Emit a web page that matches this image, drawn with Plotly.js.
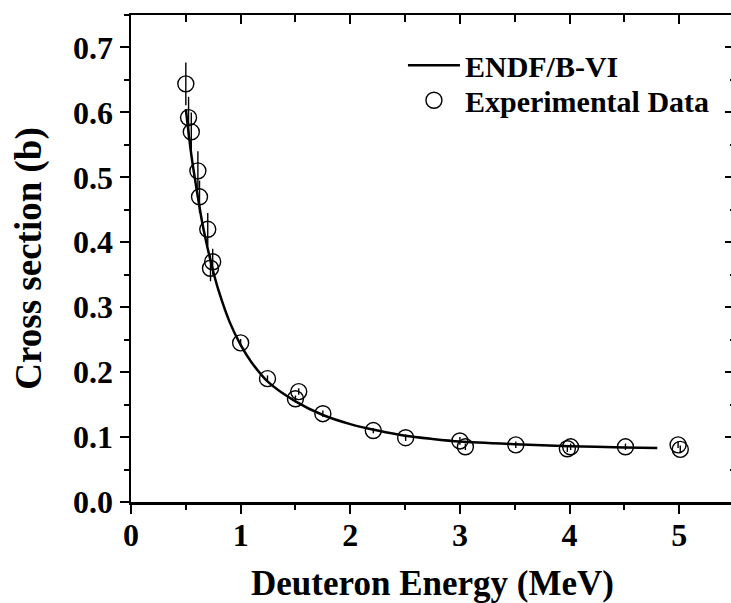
<!DOCTYPE html>
<html>
<head>
<meta charset="utf-8">
<script src="https://cdn.plot.ly/plotly-3.0.1.min.js"></script>
<style>
html,body{margin:0;padding:0;overflow:hidden;background:#fff;width:731px;height:603px;}
#chart{width:736px;height:603px;}
</style>
</head>
<body>
<div id="chart"></div>
<script>
// ENDF/B-VI evaluated curve
const endfEnergy = [0.5, 0.55, 0.6, 0.65, 0.7, 0.75, 0.8, 0.9, 1.0, 1.1, 1.25, 1.5, 1.75, 2.0, 2.25, 2.5, 2.75, 3.0, 3.5, 4.0, 4.5, 4.8];
const endfSigma  = [0.605, 0.535, 0.48, 0.43, 0.39, 0.355, 0.325, 0.277, 0.242, 0.215, 0.185, 0.155, 0.134, 0.12, 0.11, 0.102, 0.097, 0.093, 0.089, 0.086, 0.084, 0.083];

// Experimental data
const expEnergy = [0.5, 0.525, 0.55, 0.61, 0.625, 0.70, 0.725, 0.745, 1.0, 1.245, 1.50, 1.53, 1.75, 2.21, 2.505, 3.0, 3.05, 3.51, 3.98, 4.01, 4.51, 4.99, 5.01];
const expSigma  = [0.644, 0.592, 0.57, 0.51, 0.47, 0.42, 0.36, 0.37, 0.245, 0.19, 0.159, 0.17, 0.136, 0.11, 0.099, 0.094, 0.085, 0.088, 0.082, 0.085, 0.085, 0.088, 0.081];
const expError  = [0.033, 0.032, 0.03, 0.03, 0.025, 0.025, 0.02, 0.02, 0.006, 0.005, 0.005, 0.005, 0.005, 0.004, 0.005, 0.006, 0.005, 0.005, 0.005, 0.005, 0.005, 0.005, 0.006];

const xTickVals = [0, 1, 2, 3, 4, 5];
const yTickVals = [0.0, 0.1, 0.2, 0.3, 0.4, 0.5, 0.6, 0.7];

const FONT = 'Liberation Serif, Times New Roman, serif';

const traces = [
  {
    x: endfEnergy, y: endfSigma, mode: 'lines', name: 'ENDF/B-VI',
    line: {color: '#000', width: 2.5, shape: 'spline', smoothing: 0.8},
    xaxis: 'x', yaxis: 'y', legend: 'legend'
  },
  {
    x: expEnergy, y: expSigma, mode: 'markers', name: 'Experimental Data',
    marker: {symbol: 'circle-open', size: 16, color: '#000', line: {width: 1.4, color: '#000'}},
    error_y: {type: 'data', array: expError, visible: true, color: '#000', thickness: 1.4, width: 0},
    xaxis: 'x', yaxis: 'y', legend: 'legend2'
  }
];

const commonAxis = {
  showgrid: false, zeroline: false, showline: true,
  linecolor: '#000', linewidth: 2.5, tickcolor: '#000', tickwidth: 2
};

const legendFont = {family: FONT, size: 30, color: '#000', weight: 700};

const layout = {
  width: 736, height: 603,
  margin: {l: 131, r: 2, t: 15, b: 101},
  paper_bgcolor: '#fff', plot_bgcolor: '#fff',
  font: {family: FONT, color: '#000', size: 30, weight: 700},
  showlegend: true,
  legend: {
    x: 0.451, y: 0.897, xanchor: 'left', yanchor: 'middle',
    bgcolor: 'rgba(0,0,0,0)', borderwidth: 0, font: legendFont, itemwidth: 52
  },
  legend2: {
    x: 0.451, y: 0.825, xanchor: 'left', yanchor: 'middle',
    bgcolor: 'rgba(0,0,0,0)', borderwidth: 0, font: legendFont, itemwidth: 52
  },
  xaxis: Object.assign({}, commonAxis, {
    range: [0, 5.5], tickvals: xTickVals, ticktext: xTickVals.map(String),
    ticks: 'outside', ticklen: 9, ticklabelstandoff: -6,
    minor: {dtick: 0.5, tick0: 0, ticks: 'outside', ticklen: 5, tickwidth: 2, tickcolor: '#000'},
    tickfont: {family: FONT, size: 32, color: '#000', weight: 700},
    title: {text: 'Deuteron Energy (MeV)', font: {family: FONT, size: 35, color: '#000', weight: 700}, standoff: 22}
  }),
  yaxis: Object.assign({}, commonAxis, {
    range: [0, 0.75], tickvals: yTickVals, ticktext: yTickVals.map(v => v.toFixed(1)),
    ticks: 'outside', ticklen: 9,
    minor: {dtick: 0.05, tick0: 0, ticks: 'outside', ticklen: 5, tickwidth: 2, tickcolor: '#000'},
    tickfont: {family: FONT, size: 32, color: '#000', weight: 700},
    title: {text: 'Cross section (b)', font: {family: FONT, size: 37, color: '#000', weight: 700}, standoff: 20}
  }),
  xaxis2: Object.assign({}, commonAxis, {
    overlaying: 'x', side: 'top', matches: 'x', range: [0, 5.5],
    tickvals: xTickVals, showticklabels: false,
    ticks: 'inside', ticklen: 9,
    minor: {dtick: 0.5, tick0: 0, ticks: 'inside', ticklen: 7, tickwidth: 2, tickcolor: '#000'}
  }),
  yaxis2: Object.assign({}, commonAxis, {
    overlaying: 'y', side: 'right', range: [0, 0.75],
    tickvals: yTickVals, showticklabels: false,
    ticks: 'inside', ticklen: 9,
    minor: {dtick: 0.05, tick0: 0, ticks: 'inside', ticklen: 4, tickwidth: 2, tickcolor: '#000'}
  }
)};

// invisible helper trace to activate the mirrored top/right axes
traces.push({x: [0], y: [0], xaxis: 'x2', yaxis: 'y2', mode: 'markers',
  marker: {opacity: 0}, showlegend: false, hoverinfo: 'skip'});

Plotly.newPlot('chart', traces, layout, {staticPlot: true});
</script>
</body>
</html>
